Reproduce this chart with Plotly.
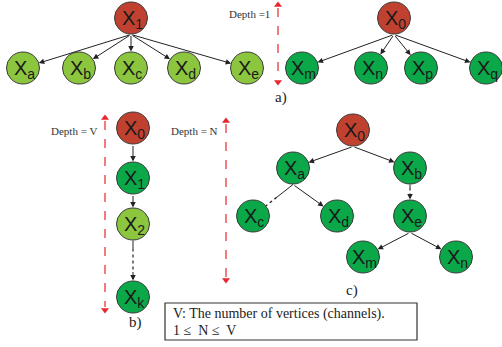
import math
import plotly.graph_objects as go

# ---- tree nodes: name, subscript, centre (x, y in px), fill kind ----
node_names = ["X1", "Xa", "Xb", "Xc", "Xd", "Xe",
              "X0r", "Xm", "Xn", "Xp", "Xq",
              "B0", "B1", "B2", "Bk",
              "C0", "Ca", "Cb", "Cc", "Cd", "Ce", "Cm", "Cn"]
node_subs = ["1", "a", "b", "c", "d", "e",
             "0", "m", "n", "p", "q",
             "0", "1", "2", "k",
             "0", "a", "b", "c", "d", "e", "m", "n"]
node_x = [131, 23, 79, 131, 184, 247,
          394, 302, 371, 421, 486,
          133, 133, 133, 133,
          353, 293, 410, 253, 337, 410, 363, 456]
node_y = [18, 68, 68, 68, 68, 68,
          18, 68, 68, 68, 68,
          128, 178, 224, 297,
          130, 168, 168, 216, 216, 216, 257, 257]
node_kind = ["root", "light", "light", "light", "light", "light",
             "root", "dark", "dark", "dark", "dark",
             "root", "dark", "light", "dark",
             "root", "dark", "dark", "dark", "dark", "dark", "dark", "dark"]

# ---- edges: parent, child, style ----
edge_from = ["X1", "X1", "X1", "X1", "X1",
             "X0r", "X0r", "X0r", "X0r",
             "B0", "B1", "B2",
             "C0", "C0", "Ca", "Ca", "Cb", "Ce", "Ce"]
edge_to = ["Xa", "Xb", "Xc", "Xd", "Xe",
           "Xm", "Xn", "Xp", "Xq",
           "B1", "B2", "Bk",
           "Ca", "Cb", "Cc", "Cd", "Ce", "Cm", "Cn"]
edge_style = ["solid"] * 9 + ["solid", "solid", "dotted"] + \
             ["solid", "solid", "dotted-open", "solid", "dotted", "solid", "solid"]

# ---- depth markers ----
depth_labels = ["Depth =1", "Depth = V", "Depth = N"]
depth_x = [278, 105, 226]
depth_top = [5, 118, 121]
depth_bottom = [82, 310, 280]
depth_text_y = [14, 131, 131]

panel_labels = ["a)", "b)", "c)"]
panel_x = [281, 135, 352]
panel_y = [97, 322, 290]

legend_lines = ["V: The number of vertices (channels).", "1 \u2264  N \u2264  V"]

fills = {"root": "#C0412F", "dark": "#0BA84A", "light": "#8CC63F"}
R = 16.5
SERIF = "Liberation Serif"

fig = go.Figure()
shapes = []
annotations = []

pos = {n: (x, y) for n, x, y in zip(node_names, node_x, node_y)}


def head(ex, ey, sx, sy):
    return dict(x=ex, y=ey, ax=sx, ay=sy, xref="x", yref="y",
                axref="x", ayref="y", text="", showarrow=True,
                arrowhead=2, arrowsize=1.1, arrowwidth=1,
                arrowcolor="#222", standoff=0, startstandoff=0)


for a, b, st in zip(edge_from, edge_to, edge_style):
    px, py = pos[a]
    cx, cy = pos[b]
    # edges leave the parent from its lowest point
    sx, sy = px, py + R
    dx, dy = cx - sx, cy - sy
    L = math.hypot(dx, dy)
    ux, uy = dx / L, dy / L
    ex, ey = cx - ux * R, cy - uy * R
    seg = L - R
    if st == "solid":
        annotations.append(head(ex, ey, sx, sy))
    elif st == "dotted":
        # short solid lead-in, dotted middle, solid tail with head
        p1 = (sx + ux * seg * 0.2, sy + uy * seg * 0.2)
        p2 = (sx + ux * seg * 0.75, sy + uy * seg * 0.75)
        shapes.append(dict(type="line", xref="x", yref="y", x0=sx, y0=sy,
                           x1=p1[0], y1=p1[1], line=dict(color="#222", width=1)))
        shapes.append(dict(type="line", xref="x", yref="y", x0=p1[0], y0=p1[1],
                           x1=p2[0], y1=p2[1], line=dict(color="#222", width=1.2, dash="dot")))
        annotations.append(head(ex, ey, p2[0], p2[1]))
    else:
        # solid from parent, dotted towards child, no head
        p1 = (sx + ux * seg * 0.6, sy + uy * seg * 0.6)
        shapes.append(dict(type="line", xref="x", yref="y", x0=sx, y0=sy,
                           x1=p1[0], y1=p1[1], line=dict(color="#222", width=1)))
        shapes.append(dict(type="line", xref="x", yref="y", x0=p1[0], y0=p1[1],
                           x1=ex, y1=ey, line=dict(color="#222", width=1.3, dash="dot")))

for n, s, x, y, k in zip(node_names, node_subs, node_x, node_y, node_kind):
    shapes.append(dict(type="circle", xref="x", yref="y",
                       x0=x - R, x1=x + R, y0=y - R + 0.5, y1=y + R - 0.5,
                       fillcolor=fills[k], line=dict(color="#3a3a3a", width=1)))
    annotations.append(dict(x=x + 1, y=y + 1, xref="x", yref="y", showarrow=False,
                            text="X<sub>%s</sub>" % s,
                            font=dict(family="Liberation Sans", size=20, color="#1a1a1a")))

red = "#E8262B"
for lab, x, y0, y1, ty in zip(depth_labels, depth_x, depth_top, depth_bottom, depth_text_y):
    shapes.append(dict(type="line", xref="x", yref="y", x0=x, x1=x, y0=y0 + 3, y1=y1 - 3,
                       line=dict(color=red, width=1.2, dash="dash")))
    annotations.append(dict(x=x - 6, y=ty, xref="x", yref="y", showarrow=False,
                            text=lab, xanchor="right",
                            font=dict(family=SERIF, size=11, color="#333")))
fig.add_trace(go.Scatter(x=depth_x, y=depth_top, mode="markers", hoverinfo="skip",
                         marker=dict(symbol="triangle-up", size=7, color=red)))
fig.add_trace(go.Scatter(x=depth_x, y=depth_bottom, mode="markers", hoverinfo="skip",
                         marker=dict(symbol="triangle-down", size=7, color=red)))

for lab, x, y in zip(panel_labels, panel_x, panel_y):
    annotations.append(dict(x=x, y=y, xref="x", yref="y", showarrow=False, text=lab,
                            font=dict(family=SERIF, size=15, color="#222")))

# note box
shapes.append(dict(type="rect", xref="x", yref="y", x0=165, x1=417, y0=303, y1=340,
                   line=dict(color="#333", width=1.2), fillcolor="white"))
for i, line in enumerate(legend_lines):
    annotations.append(dict(x=171, y=314 + i * 16, xref="x", yref="y", showarrow=False,
                            text=line, xanchor="left",
                            font=dict(family=SERIF, size=14, color="#222")))

fig.update_layout(width=502, height=347, margin=dict(l=0, r=0, t=0, b=0),
                  paper_bgcolor="white", plot_bgcolor="white", showlegend=False,
                  shapes=shapes, annotations=annotations,
                  xaxis=dict(range=[0, 502], visible=False, fixedrange=True),
                  yaxis=dict(range=[347, 0], visible=False, fixedrange=True))
fig.write_html("out.html")
